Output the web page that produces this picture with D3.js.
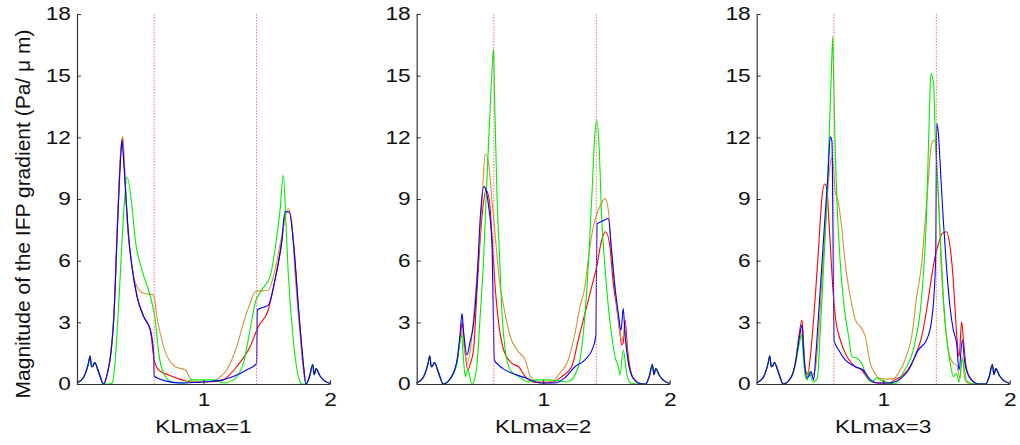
<!DOCTYPE html>
<html><head><meta charset="utf-8">
<script src="https://cdn.jsdelivr.net/npm/d3@7"></script>
<style>body{margin:0;background:#fff}svg{display:block}text{font-family:"Liberation Sans",Arial,Helvetica,sans-serif}</style>
</head><body><svg id="c" width="1020" height="445"></svg>
<script>
// ---------- data ----------
const panelTitles = ["KLmax=1", "KLmax=2", "KLmax=3"];
const yTicks = [0, 3, 6, 9, 12, 15, 18];
const xTicks = [1, 2];
const markerX = [0.61, 1.42];
const seriesNames = ["red", "orange", "green", "blue"];
const seriesColors = ["#ff0000", "#d6913c", "#00ee00", "#0000ff"];
const yLabel = "Magnitude of the IFP gradient (Pa/ \u03bc m)";

const startBumps = [[0,0.05],[0.05,0.3],[0.09,1.0],[0.103,1.36],[0.115,0.85],[0.121,0.84],[0.14,1.04],[0.17,0.6],[0.21,0]];
const endBumps = [[1.81,0],[1.84,0.4],[1.863,0.95],[1.876,0.45],[1.889,0.75],[1.92,0.4],[1.947,0.2],[2.0,0.02]];

// KLmax = 1
const kl1_red = [[0.24,0.5],[0.27,1.6],[0.29,3.1],[0.322,8.0],[0.345,11.2],[0.361,12.03],[0.37,11.0],[0.385,9.3],[0.408,7.2],[0.435,5.7],[0.474,4.3],[0.527,3.3],[0.58,2.6],[0.61,1.17],[0.646,0.68],[0.725,0.44],[0.83,0.2],[0.9,0.1],[1.0,0.1],[1.1,0.12],[1.157,0.2],[1.262,0.84],[1.368,1.81],[1.433,2.79],[1.512,3.6],[1.565,5.06],[1.618,6.9],[1.652,8.38],[1.678,8.38],[1.71,7.0],[1.75,3.76],[1.789,1.0]];
const kl1_orange = [[0.24,0.5],[0.27,1.7],[0.29,3.3],[0.322,8.3],[0.345,11.3],[0.36,12.0],[0.375,10.8],[0.395,8.0],[0.42,6.4],[0.474,4.73],[0.527,4.41],[0.606,4.33],[0.632,3.27],[0.685,1.81],[0.777,0.84],[0.856,0.68],[0.896,0.28],[0.92,0.1],[1.0,0.1],[1.08,0.15],[1.117,0.28],[1.183,0.68],[1.262,1.81],[1.315,2.95],[1.368,3.92],[1.407,4.49],[1.512,4.57],[1.565,5.54],[1.618,7.17],[1.67,8.54],[1.697,7.98],[1.723,5.4],[1.763,2.46],[1.789,0.68]];
const kl1_green = [[0.25,0],[0.277,0.05],[0.3,1.0],[0.33,3.92],[0.369,8.3],[0.395,10.08],[0.435,8.62],[0.461,7.0],[0.514,5.54],[0.58,4.25],[0.619,3.11],[0.646,1.5],[0.685,0.53],[0.75,0.1],[0.85,0.05],[0.9,0.2],[1.0,0.2],[1.1,0.2],[1.157,0.05],[1.236,0.2],[1.315,1.0],[1.368,2.63],[1.407,3.92],[1.46,4.57],[1.526,5.22],[1.565,6.52],[1.605,8.46],[1.631,10.17],[1.652,7.8],[1.67,5.38],[1.71,2.14],[1.75,0.36],[1.78,0]];
const kl1_blue = [[0.24,0.5],[0.27,1.6],[0.29,3.1],[0.322,8.0],[0.345,11.0],[0.356,11.85],[0.365,11.2],[0.382,9.6],[0.408,7.17],[0.435,5.7],[0.474,4.25],[0.527,3.27],[0.58,2.63],[0.606,1.49],[0.61,0.4],[0.65,0.25],[0.7,0.15],[0.75,0.08],[0.85,0.05],[0.95,0.08],[1.05,0.12],[1.15,0.2],[1.236,0.36],[1.341,0.68],[1.42,1.0],[1.425,3.6],[1.512,3.84],[1.565,5.06],[1.618,6.9],[1.644,8.38],[1.678,8.38],[1.715,6.6],[1.75,3.76],[1.789,1.0]];

// KLmax = 2
const kl2_red = [[0.27,0.3],[0.319,1.1],[0.345,2.3],[0.36,3.0],[0.375,2.0],[0.405,0.68],[0.425,1.0],[0.45,1.7],[0.477,4.57],[0.516,8.14],[0.548,9.44],[0.574,8.95],[0.595,7.2],[0.622,4.57],[0.648,2.95],[0.688,1.65],[0.753,1.0],[0.806,0.84],[0.86,0.35],[0.92,0.1],[1.0,0.05],[1.08,0.1],[1.146,0.36],[1.225,0.84],[1.277,2.14],[1.33,3.44],[1.383,4.73],[1.423,5.7],[1.462,7.0],[1.494,7.41],[1.527,6.7],[1.554,4.9],[1.58,3.76],[1.607,2.46],[1.62,1.9],[1.633,2.0],[1.646,3.11],[1.67,1.5],[1.71,0.3],[1.77,0]];
const kl2_orange = [[0.27,0.3],[0.319,1.1],[0.345,2.2],[0.36,2.6],[0.375,1.8],[0.4,1.0],[0.43,2.0],[0.463,4.25],[0.503,7.5],[0.522,9.6],[0.542,11.2],[0.569,10.7],[0.595,8.95],[0.622,7.17],[0.653,5.06],[0.688,3.76],[0.74,2.3],[0.793,1.65],[0.858,1.17],[0.9,0.35],[0.94,0.15],[1.0,0.1],[1.08,0.15],[1.12,0.44],[1.198,1.17],[1.251,2.46],[1.291,3.76],[1.33,4.73],[1.356,6.05],[1.396,7.65],[1.436,8.46],[1.462,8.8],[1.488,9.03],[1.515,8.46],[1.54,6.52],[1.567,4.73],[1.6,2.79],[1.62,2.1],[1.646,2.6],[1.67,1.17],[1.71,0.3],[1.77,0]];
const kl2_green = [[0.27,0.3],[0.319,1.0],[0.34,2.0],[0.355,2.38],[0.37,1.2],[0.384,0.36],[0.405,0.7],[0.437,0],[0.46,0.3],[0.477,1.0],[0.503,3.44],[0.53,6.2],[0.548,8.95],[0.569,11.87],[0.59,14.6],[0.603,16.08],[0.608,16.3],[0.615,14.0],[0.622,12.35],[0.635,9.1],[0.653,6.5],[0.674,3.44],[0.7,1.65],[0.74,0.68],[0.806,0.36],[0.885,0.1],[0.95,0.2],[1.05,0.2],[1.12,0.15],[1.198,0.11],[1.277,0.84],[1.317,2.46],[1.356,5.7],[1.383,8.95],[1.409,12.19],[1.423,12.84],[1.443,11.38],[1.462,8.14],[1.488,5.7],[1.515,3.76],[1.54,2.46],[1.567,1.33],[1.594,0.84],[1.607,0.44],[1.633,1.65],[1.66,0.5],[1.69,0.05],[1.75,0]];
const kl2_blue = [[0.27,0.3],[0.319,1.17],[0.345,2.6],[0.358,3.44],[0.37,2.6],[0.398,1.41],[0.42,2.0],[0.45,2.95],[0.477,5.06],[0.503,8.14],[0.53,9.6],[0.545,9.5],[0.569,8.62],[0.595,6.84],[0.603,4.25],[0.614,1.17],[0.648,0.92],[0.753,0.52],[0.86,0.3],[0.94,0.1],[1.0,0.05],[1.09,0.05],[1.17,0.3],[1.251,0.84],[1.33,1.17],[1.396,1.81],[1.417,2.4],[1.425,7.8],[1.462,7.9],[1.515,8.05],[1.54,6.5],[1.567,4.73],[1.594,3.44],[1.615,2.6],[1.633,3.68],[1.646,2.46],[1.67,1.17],[1.71,0.3],[1.786,0]];

// KLmax = 3
const kl3_red = [[0.27,0.3],[0.305,1.0],[0.335,2.4],[0.358,3.11],[0.372,1.8],[0.384,0.68],[0.405,0.5],[0.424,1.33],[0.463,4.25],[0.49,6.68],[0.516,9.1],[0.537,9.73],[0.555,9.5],[0.569,8.14],[0.59,5.87],[0.603,4.57],[0.622,3.27],[0.661,2.14],[0.714,1.33],[0.78,0.84],[0.83,0.68],[0.886,0.2],[0.95,0.05],[1.05,0.05],[1.09,0.2],[1.17,0.5],[1.25,1.33],[1.304,2.3],[1.343,3.6],[1.383,5.22],[1.41,6.2],[1.436,6.8],[1.467,7.33],[1.502,7.41],[1.528,6.7],[1.554,5.06],[1.57,3.44],[1.6,1.33],[1.62,3.03],[1.636,2.0],[1.66,0.7],[1.7,0.2],[1.75,0]];
const kl3_orange = [[0.27,0.3],[0.305,1.0],[0.335,2.2],[0.358,2.6],[0.372,1.5],[0.39,0.5],[0.42,0.4],[0.45,0.5],[0.47,1.0],[0.49,2.5],[0.516,5.06],[0.542,7.5],[0.564,9.6],[0.582,10.73],[0.595,11.0],[0.608,10.5],[0.622,9.27],[0.64,9.0],[0.674,7.49],[0.7,5.87],[0.74,4.25],[0.78,3.11],[0.82,2.79],[0.858,2.3],[0.898,1.0],[0.937,0.5],[0.99,0.25],[1.08,0.25],[1.12,0.52],[1.172,1.17],[1.225,2.3],[1.265,4.25],[1.304,5.87],[1.33,7.8],[1.357,9.92],[1.383,11.7],[1.404,11.87],[1.415,11.5],[1.436,9.1],[1.457,5.87],[1.483,3.44],[1.515,1.65],[1.555,1.0],[1.58,0.92],[1.607,0.3],[1.625,1.33],[1.646,0.2],[1.69,0]];
const kl3_green = [[0.27,0.3],[0.305,0.9],[0.335,1.9],[0.355,2.4],[0.37,1.2],[0.384,0.4],[0.4,0.2],[0.415,0.6],[0.43,0.3],[0.45,0.1],[0.48,0.3],[0.503,2.63],[0.53,5.87],[0.556,9.1],[0.574,12.35],[0.59,15.1],[0.601,16.9],[0.608,15.0],[0.617,12.35],[0.635,8.79],[0.661,5.87],[0.688,3.92],[0.727,2.3],[0.753,1.33],[0.793,1.25],[0.83,1.0],[0.87,0.36],[0.91,0.1],[0.95,0.3],[0.98,0.2],[1.05,0.05],[1.09,0],[1.17,0.68],[1.25,1.98],[1.304,4.25],[1.343,8.3],[1.369,13.97],[1.378,15.1],[1.4,14.5],[1.409,12.5],[1.43,10.0],[1.449,7.49],[1.475,4.25],[1.5,2.3],[1.53,1.0],[1.555,0.36],[1.58,0.5],[1.6,0.1],[1.625,1.2],[1.66,0.15],[1.72,0]];
const kl3_blue = [[0.27,0.3],[0.305,1.0],[0.335,2.2],[0.358,2.87],[0.372,1.5],[0.384,0.68],[0.398,0.3],[0.41,0.36],[0.43,0.6],[0.45,0.2],[0.465,1.2],[0.49,3.44],[0.516,5.87],[0.542,8.3],[0.564,10.25],[0.582,12.03],[0.595,11.8],[0.603,7.49],[0.611,2.14],[0.648,1.65],[0.7,1.17],[0.78,0.84],[0.84,0.68],[0.9,0.2],[0.96,0.05],[1.05,0.05],[1.09,0.1],[1.2,0.68],[1.277,1.65],[1.343,2.14],[1.383,3.11],[1.404,4.57],[1.415,6.2],[1.423,12.68],[1.436,12.2],[1.457,9.92],[1.475,7.98],[1.502,5.54],[1.528,3.76],[1.554,2.63],[1.58,1.98],[1.6,0.68],[1.625,2.14],[1.646,1.0],[1.69,0.25],[1.76,0]];

const panels = [
  [kl1_red, kl1_orange, kl1_green, kl1_blue],
  [kl2_red, kl2_orange, kl2_green, kl2_blue],
  [kl3_red, kl3_orange, kl3_green, kl3_blue]
];

// ---------- drawing ----------
const svg = d3.select("#c");
const panelLeft = [77, 416.7, 756.7];
const plotW = 253, plotTop = 14, plotBottom = 384;
const x = d3.scaleLinear().domain([0, 2]).range([0, plotW]);
const y = d3.scaleLinear().domain([0, 18]).range([plotBottom, plotTop]);
const line = d3.line().x(d => x(d[0])).y(d => y(d[1])).curve(d3.curveMonotoneX);
const sx = 1.22;
const fmt = d3.format("d");

panels.forEach((series, pi) => {
  const g = svg.append("g").attr("transform", `translate(${panelLeft[pi]},0)`);

  series.forEach((s, si) => {
    const full = startBumps.concat(s, endBumps);
    g.append("path").datum(full)
      .attr("d", line).attr("fill", "none")
      .attr("stroke", seriesColors[si]).attr("stroke-width", 1.1)
      .attr("stroke-linejoin", "round");
  });

  markerX.forEach(mx => {
    g.append("line").attr("x1", x(mx)).attr("x2", x(mx))
      .attr("y1", plotTop).attr("y2", plotBottom)
      .attr("stroke", "#ff6a6a").attr("stroke-width", 1)
      .attr("stroke-dasharray", "1.5,1.5");
  });

  const ya = g.append("g").call(d3.axisLeft(y).tickValues(yTicks).tickFormat(fmt).tickSize(-4).tickSizeOuter(0).tickPadding(6));
  const xa = g.append("g").attr("transform", `translate(0,${plotBottom})`)
    .call(d3.axisBottom(x).tickValues(xTicks).tickFormat(fmt).tickSize(-4).tickSizeOuter(0).tickPadding(9));
  [ya, xa].forEach(a => {
    a.select(".domain").attr("stroke", "#333").attr("stroke-width", 1.2);
    a.selectAll(".tick line").attr("stroke", "#333");
    a.selectAll("text").attr("fill", "#111").attr("font-size", 18.6)
      .style("font-family", '"Liberation Sans", Arial, sans-serif');
  });
  ya.selectAll(".tick text").attr("transform", `scale(${sx},1)`).attr("x", -6 / sx);
  xa.selectAll(".tick text").attr("transform", `scale(${sx},1)`);

  g.append("text")
    .attr("transform", `translate(${x(1)},433) scale(${sx},1)`)
    .attr("text-anchor", "middle").attr("font-size", 18.6).attr("fill", "#111")
    .text(panelTitles[pi]);
});

svg.append("text")
  .attr("transform", "translate(30,214) rotate(-90)")
  .attr("text-anchor", "middle").attr("font-size", 21).attr("fill", "#111")
  .text(yLabel);
</script></body></html>
